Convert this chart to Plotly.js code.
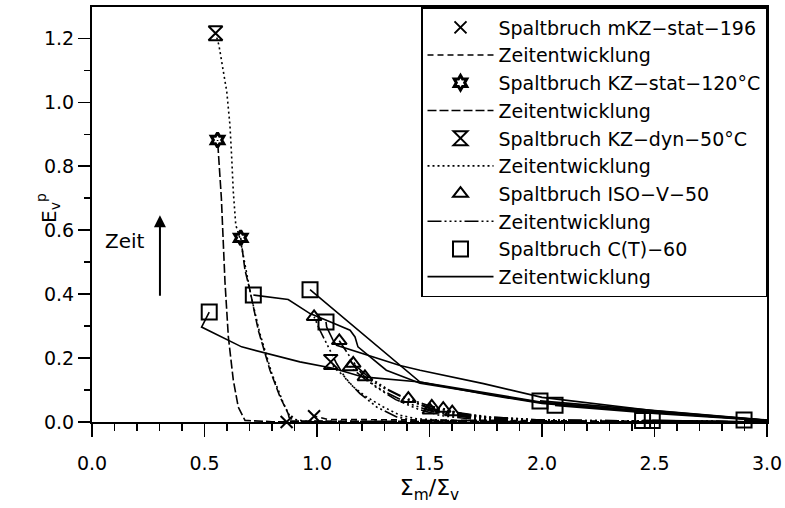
<!DOCTYPE html>
<html>
<head>
<meta charset="utf-8">
<script src="https://cdn.plot.ly/plotly-3.0.1.min.js"></script>
<style>
  html, body { margin: 0; padding: 0; background: #fff; }
  #chart { width: 785px; height: 508px; }
</style>
</head>
<body>
<div id="chart"></div>
<script>
// Fracture points (Spaltbruch) per test series: Σm/Σv and plastic strain E_v^p
const mkzX = [0.865, 0.987];
const mkzY = [0.0, 0.018];
const kzStatX = [0.558, 0.661];
const kzStatY = [0.882, 0.576];
const kzDynX = [0.549, 1.061];
const kzDynY = [1.216, 0.188];
const isoX = [0.987, 1.099, 1.147, 1.161, 1.213, 1.406, 1.502, 1.510, 1.561, 1.601];
const isoY = [0.329, 0.254, 0.172, 0.183, 0.141, 0.073, 0.037, 0.049, 0.042, 0.031];
const ctX = [0.521, 0.717, 0.969, 1.040, 1.991, 2.058, 2.447, 2.490, 2.898];
const ctY = [0.344, 0.397, 0.414, 0.313, 0.066, 0.052, 0.005, 0.005, 0.006];

// Time evolution (Zeitentwicklung) of each specimen, one path per fracture point
const mkzPathX = [
  [3.0, 2.5, 2.0, 1.5, 1.2, 1.05, 0.987],
  [3.0, 2.5, 2.0, 1.5, 1.0, 0.865]
];
const mkzPathY = [
  [0.0, 0.002, 0.004, 0.006, 0.006, 0.008, 0.018],
  [0.0, 0.0, 0.002, 0.003, 0.002, 0.0]
];
const kzStatPathX = [
  [3.0, 2.0, 1.2, 0.80, 0.68, 0.65, 0.628, 0.606, 0.591, 0.575, 0.558],
  [3.0, 2.0, 1.2, 0.95, 0.88, 0.872, 0.836, 0.791, 0.739, 0.702, 0.680, 0.661]
];
const kzStatPathY = [
  [0.0, 0.0, 0.0, 0.001, 0.005, 0.047, 0.131, 0.266, 0.438, 0.700, 0.882],
  [0.0, 0.0, 0.002, 0.003, 0.003, 0.026, 0.078, 0.162, 0.287, 0.412, 0.475, 0.576]
];
const kzDynPathX = [
  [3.0, 2.0, 1.2, 0.95, 0.885, 0.85, 0.80, 0.745, 0.705, 0.685, 0.668, 0.658, 0.639, 0.628, 0.621, 0.613, 0.599, 0.564, 0.549],
  [3.0, 2.0, 1.6, 1.443, 1.369, 1.295, 1.221, 1.161, 1.117, 1.080, 1.061]
];
const kzDynPathY = [
  [0.0, 0.0, 0.0, 0.002, 0.010, 0.060, 0.150, 0.280, 0.400, 0.470, 0.540, 0.574, 0.616, 0.720, 0.825, 0.929, 1.033, 1.179, 1.216],
  [0.0, 0.001, 0.004, 0.010, 0.021, 0.047, 0.078, 0.110, 0.146, 0.167, 0.188]
];
const isoPathX = [
  [3.0, 2.0, 1.6, 1.428, 1.354, 1.265, 1.191, 1.132, 1.087, 1.050, 1.013, 0.987],
  [3.0, 2.0, 1.7, 1.55, 1.45, 1.35, 1.26, 1.20, 1.15, 1.099],
  [3.0, 2.0, 1.7, 1.58, 1.50, 1.40, 1.30, 1.22, 1.147],
  [3.0, 2.0, 1.72, 1.60, 1.52, 1.42, 1.32, 1.23, 1.161],
  [3.0, 2.0, 1.72, 1.60, 1.50, 1.40, 1.30, 1.213],
  [3.0, 2.0, 1.75, 1.62, 1.52, 1.406],
  [3.0, 2.0, 1.75, 1.60, 1.502],
  [3.0, 2.0, 1.76, 1.62, 1.510],
  [3.0, 2.0, 1.75, 1.65, 1.561],
  [3.0, 2.0, 1.78, 1.68, 1.601]
];
const isoPathY = [
  [0.0, 0.002, 0.004, 0.005, 0.016, 0.047, 0.089, 0.131, 0.183, 0.235, 0.287, 0.329],
  [0.0, 0.003, 0.008, 0.020, 0.040, 0.070, 0.110, 0.150, 0.200, 0.254],
  [0.0, 0.004, 0.012, 0.022, 0.035, 0.060, 0.095, 0.130, 0.172],
  [0.0, 0.005, 0.014, 0.026, 0.040, 0.066, 0.100, 0.140, 0.183],
  [0.0, 0.005, 0.015, 0.025, 0.042, 0.070, 0.105, 0.141],
  [0.0, 0.006, 0.016, 0.028, 0.045, 0.073],
  [0.0, 0.004, 0.012, 0.022, 0.037],
  [0.0, 0.006, 0.016, 0.030, 0.049],
  [0.0, 0.005, 0.014, 0.025, 0.042],
  [0.0, 0.004, 0.012, 0.020, 0.031]
];
const ctPathX = [
  [3.0, 2.5, 2.0, 1.76, 1.458, 1.204, 1.071, 0.924, 0.665, 0.487, 0.521],
  [3.0, 2.5, 2.0, 1.76, 1.458, 1.308, 1.219, 1.182, 1.169, 1.147, 1.071, 0.969, 0.872, 0.717],
  [3.0, 2.5, 2.0, 1.76, 1.458, 0.998, 0.969],
  [3.0, 2.5, 2.0, 1.74, 1.458, 1.369, 1.087, 1.071, 1.043, 1.040],
  [3.0, 2.5, 1.991],
  [3.0, 2.5, 2.058],
  [3.0, 2.447],
  [3.0, 2.490],
  [3.0, 2.898]
];
const ctPathY = [
  [0.005, 0.030, 0.058, 0.085, 0.125, 0.141, 0.168, 0.188, 0.235, 0.297, 0.344],
  [0.005, 0.030, 0.060, 0.088, 0.121, 0.162, 0.215, 0.235, 0.266, 0.287, 0.310, 0.339, 0.383, 0.397],
  [0.005, 0.032, 0.062, 0.090, 0.125, 0.397, 0.414],
  [0.005, 0.035, 0.077, 0.120, 0.162, 0.177, 0.240, 0.256, 0.297, 0.313],
  [0.006, 0.035, 0.066],
  [0.004, 0.027, 0.052],
  [0.0, 0.005],
  [0.0, 0.005],
  [0.0, 0.006]
];

const FONT = 'DejaVu Sans, sans-serif';
const INK = '#000';

const series = [
  { name: 'Spaltbruch mKZ−stat−196', x: mkzX, y: mkzY, symbol: 'x-thin-open', size: 12, lw: 2,
    px: mkzPathX, py: mkzPathY, dash: '6px,4px' },
  { name: 'Spaltbruch KZ−stat−120°C', x: kzStatX, y: kzStatY, symbol: 'hexagram-open', size: 11, lw: 3,
    px: kzStatPathX, py: kzStatPathY, dash: '9px,3px' },
  { name: 'Spaltbruch KZ−dyn−50°C', x: kzDynX, y: kzDynY, symbol: 'hourglass-open', size: 14, lw: 2,
    px: kzDynPathX, py: kzDynPathY, dash: '2px,3px' },
  { name: 'Spaltbruch ISO−V−50', x: isoX, y: isoY, symbol: 'triangle-up-open', size: 13, lw: 2,
    px: isoPathX, py: isoPathY, dash: '14px,3px,2px,3px,2px,3px,2px,3px,2px,3px' },
  { name: 'Spaltbruch C(T)−60', x: ctX, y: ctY, symbol: 'square-open', size: 15, lw: 2,
    px: ctPathX, py: ctPathY, dash: 'solid' }
];

const traces = [];
series.forEach((s, k) => {
  traces.push({
    type: 'scatter', mode: 'markers', name: s.name, x: s.x, y: s.y,
    cliponaxis: false, legendgroup: 'm' + k,
    marker: { symbol: s.symbol, size: s.size, color: INK, line: { color: INK, width: s.lw } }
  });
  s.px.forEach((xs, j) => {
    traces.push({
      type: 'scatter', mode: 'lines', name: 'Zeitentwicklung', x: xs, y: s.py[j],
      cliponaxis: false, legendgroup: 'l' + k, showlegend: j === 0,
      line: { color: INK, width: 1.6, dash: s.dash }
    });
  });
});

const layout = {
  width: 785, height: 508,
  margin: { l: 92, r: 18, t: 7, b: 86 },
  paper_bgcolor: '#fff', plot_bgcolor: '#fff',
  font: { family: FONT, size: 19, color: INK },
  showlegend: true,
  legend: {
    x: 1, xanchor: 'right', y: 1, yanchor: 'top',
    bgcolor: '#fff', bordercolor: INK, borderwidth: 1.5,
    font: { family: FONT, size: 19, color: INK },
    itemwidth: 66, tracegroupgap: 0, traceorder: 'normal'
  },
  xaxis: {
    range: [0, 3.0], tick0: 0, dtick: 0.5, tickformat: '.1f',
    showgrid: false, zeroline: false,
    showline: true, linecolor: INK, linewidth: 2, mirror: true,
    ticks: 'outside', ticklen: 13, tickwidth: 1.5, tickcolor: INK,
    minor: { dtick: 0.1, ticks: 'outside', ticklen: 7, tickwidth: 1.5, tickcolor: INK, showgrid: false },
    tickfont: { family: FONT, size: 19, color: INK },
    ticklabelstandoff: 10,
    title: { text: 'Σ<sub>m</sub>/Σ<sub>v</sub>', font: { family: FONT, size: 22, color: INK }, standoff: 7 }
  },
  yaxis: {
    range: [0, 1.298], tick0: 0, dtick: 0.2, tickformat: '.1f',
    showgrid: false, zeroline: false,
    showline: true, linecolor: INK, linewidth: 2, mirror: true,
    ticks: 'outside', ticklen: 12, tickwidth: 1.5, tickcolor: INK,
    minor: { dtick: 0.1, ticks: 'outside', ticklen: 6, tickwidth: 1.5, tickcolor: INK, showgrid: false },
    tickfont: { family: FONT, size: 19, color: INK }
  },
  annotations: [
    // y-axis label E_v^p with the superscript stacked over the subscript
    { x: 35, y: 213, xref: 'paper', yref: 'paper', text: 'E<sub>v</sub>', textangle: -90,
      showarrow: false, font: { family: FONT, size: 20, color: INK } },
    { x: 31, y: 198, xref: 'paper', yref: 'paper', text: 'p', textangle: -90,
      showarrow: false, font: { family: FONT, size: 14, color: INK } },
    { x: 0.147, y: 0.565, xref: 'x', yref: 'y', text: 'Zeit', showarrow: false,
      font: { family: FONT, size: 20, color: INK } },
    { x: 0.302, y: 0.647, xref: 'x', yref: 'y', ax: 0.302, ay: 0.39, axref: 'x', ayref: 'y',
      text: '', showarrow: true, arrowhead: 2, arrowsize: 1.2, arrowwidth: 2, arrowcolor: INK }
  ]
};

// place the stacked y-label in pixel terms relative to the page
const W = 785, H = 508, ml = 92, mr = 18, mt = 7, mb = 86;
const pw = W - ml - mr, ph = H - mt - mb;
layout.annotations.slice(0, 2).forEach(a => {
  a.x = (a.x - ml) / pw;
  a.y = (H - mb - a.y) / ph;
});

Plotly.newPlot('chart', traces, layout, { staticPlot: true, displayModeBar: false });
</script>
</body>
</html>
